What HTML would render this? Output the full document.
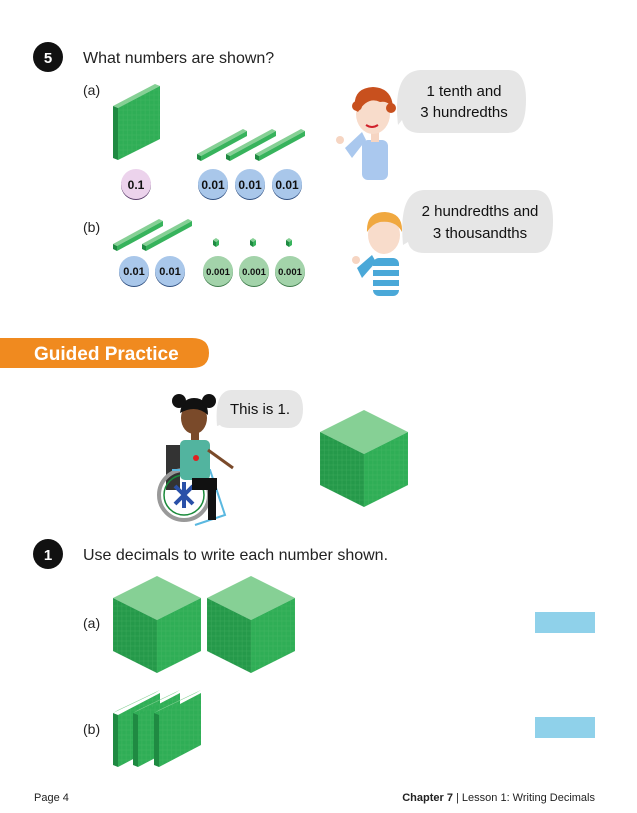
<!DOCTYPE html>
<html><head><meta charset="utf-8"><style>
html,body{margin:0;padding:0;background:#fff;}
svg{display:block;font-family:"Liberation Sans",sans-serif;}
</style></head><body>
<svg width="637" height="813" viewBox="0 0 637 813" xmlns="http://www.w3.org/2000/svg">
<defs>
<pattern id="grid" width="4.4" height="5" patternUnits="userSpaceOnUse">
<rect width="4.4" height="5" fill="none" stroke="#5cbf72" stroke-width="0.4"/>
</pattern>
<g id="cube">
<polygon points="0,22 44,0 88,22 44,44" fill="#86d095"/>
<polygon points="0,22 44,44 44,97 0,75" fill="#25994a"/>
<polygon points="44,44 88,22 88,75 44,97" fill="#2fae56"/>
<polygon points="0,22 44,44 44,97 0,75" fill="url(#grid)" opacity="0.5"/>
<polygon points="44,44 88,22 88,75 44,97" fill="url(#grid)" opacity="0.5"/>
</g>
<g id="plate">
<polygon points="0,23 5,20 47,0 42,3" fill="#86d095"/>
<polygon points="0,23 5,25 5,77 0,75" fill="#1f8a42"/>
<polygon points="5,25 47,3 47,55 5,77" fill="#2fae56"/>
<polygon points="5,25 47,3 47,55 5,77" fill="url(#grid)" opacity="0.5"/>
</g>
<g id="rod">
<polygon points="0,-3 46,-28 50,-26 4,-1" fill="#86d095"/>
<polygon points="0,-3 4,-1 4,4 0,2" fill="#1f8a42"/>
<polygon points="4,-1 50,-26 50,-21 4,4" fill="#37b35c"/>
</g>
<g id="unit">
<polygon points="0,2 3,0 6,2 3,4" fill="#86d095"/>
<polygon points="0,2 3,4 3,9 0,7" fill="#1f8a42"/>
<polygon points="3,4 6,2 6,7 3,9" fill="#37b35c"/>
</g>
</defs>

<!-- Q5 -->
<circle cx="48" cy="57" r="15" fill="#111"/>
<text x="48" y="63" font-size="15" font-weight="bold" fill="#fff" text-anchor="middle">5</text>
<text x="83" y="63" font-size="16" fill="#222">What numbers are shown?</text>
<text x="83" y="95" font-size="14" fill="#222">(a)</text>
<text x="83" y="232" font-size="14" fill="#222">(b)</text>

<!-- flat -->
<polygon points="113,106 155,84 160,86 118,108" fill="#86d095"/>
<polygon points="113,106 118,108 118,160 113,158" fill="#1f8a42"/>
<polygon points="118,108 160,86 160,139 118,160" fill="#2fae56"/>
<polygon points="118,108 160,86 160,139 118,160" fill="url(#grid)" opacity="0.5"/>

<use href="#rod" x="197" y="157"/>
<use href="#rod" x="226" y="157"/>
<use href="#rod" x="255" y="157"/>

<g font-size="12" font-weight="bold" text-anchor="middle" fill="#111">
<circle cx="136" cy="185" r="15" fill="#5a3d6a"/><circle cx="136" cy="184" r="15" fill="#ecd3ec"/><text x="136" y="189">0.1</text>
<circle cx="213" cy="185" r="15" fill="#2f4f80"/><circle cx="213" cy="184" r="15" fill="#a9c7ea"/><text x="213" y="189">0.01</text>
<circle cx="250" cy="185" r="15" fill="#2f4f80"/><circle cx="250" cy="184" r="15" fill="#a9c7ea"/><text x="250" y="189">0.01</text>
<circle cx="287" cy="185" r="15" fill="#2f4f80"/><circle cx="287" cy="184" r="15" fill="#a9c7ea"/><text x="287" y="189">0.01</text>
</g>

<use href="#rod" x="113" y="247"/>
<use href="#rod" x="142" y="247"/>
<use href="#unit" x="213" y="238"/>
<use href="#unit" x="250" y="238"/>
<use href="#unit" x="286" y="238"/>

<g font-size="11" font-weight="bold" text-anchor="middle" fill="#111">
<circle cx="134" cy="272" r="15" fill="#2f4f80"/><circle cx="134" cy="271" r="15" fill="#a9c7ea"/><text x="134" y="275">0.01</text>
<circle cx="170" cy="272" r="15" fill="#2f4f80"/><circle cx="170" cy="271" r="15" fill="#a9c7ea"/><text x="170" y="275">0.01</text>
</g>
<g font-size="9.5" font-weight="bold" text-anchor="middle" fill="#111">
<circle cx="218" cy="272" r="15" fill="#3d7a4a"/><circle cx="218" cy="271" r="15" fill="#a3d3aa"/><text x="218" y="275">0.001</text>
<circle cx="254" cy="272" r="15" fill="#3d7a4a"/><circle cx="254" cy="271" r="15" fill="#a3d3aa"/><text x="254" y="275">0.001</text>
<circle cx="290" cy="272" r="15" fill="#3d7a4a"/><circle cx="290" cy="271" r="15" fill="#a3d3aa"/><text x="290" y="275">0.001</text>
</g>

<!-- boy 1 -->
<polygon points="345,148 362,132 366,140 352,158" fill="#aac8ee"/>
<rect x="362" y="140" width="26" height="40" rx="6" fill="#aac8ee"/>
<rect x="371" y="130" width="8" height="12" fill="#f6d5c2"/>
<circle cx="340" cy="140" r="4" fill="#f6d5c2"/>
<ellipse cx="373" cy="114" rx="17" ry="20" fill="#f8dccb"/>
<path d="M355,110 Q352,88 373,87 Q394,88 393,112 Q390,100 380,102 Q368,96 358,112 Z" fill="#c8501e"/>
<circle cx="357" cy="106" r="5" fill="#c8501e"/><circle cx="391" cy="108" r="5" fill="#c8501e"/>
<path d="M366,125 Q372,129 378,125" stroke="#d0202a" stroke-width="2" fill="none"/>
<path d="M398,125 Q392,72 420,70 L508,70 Q526,70 526,100 Q526,133 508,133 L420,133 Q405,133 402,120 Z" fill="#e6e6e6"/>
<text x="464" y="96" font-size="15" fill="#111" text-anchor="middle">1 tenth and</text>
<text x="464" y="117" font-size="15" fill="#111" text-anchor="middle">3 hundredths</text>

<!-- boy 2 -->
<polygon points="357,268 372,255 376,262 362,278" fill="#4aa8d8"/>
<rect x="373" y="258" width="26" height="38" rx="6" fill="#4aa8d8"/>
<rect x="373" y="266" width="26" height="4" fill="#fff"/><rect x="373" y="276" width="26" height="4" fill="#fff"/><rect x="373" y="286" width="26" height="4" fill="#fff"/>
<circle cx="356" cy="260" r="4" fill="#f6d5c2"/>
<ellipse cx="384" cy="235" rx="16" ry="19" fill="#f8dccb"/>
<path d="M367,232 Q366,212 385,212 Q403,213 402,232 Q396,220 380,222 Q372,224 367,232Z" fill="#f0a840"/>
<path d="M403,245 Q398,190 425,190 L535,190 Q553,190 553,221 Q553,253 535,253 L425,253 Q410,253 408,242 Z" fill="#e6e6e6"/>
<text x="480" y="216" font-size="15" fill="#111" text-anchor="middle">2 hundredths and</text>
<text x="480" y="238" font-size="15" fill="#111" text-anchor="middle">3 thousandths</text>

<!-- Guided practice banner -->
<path d="M0,338 L192,338 Q209,338 209,353 Q209,368 192,368 L0,368 Z" fill="#f08a1f"/>
<text x="34" y="360" font-size="19" font-weight="bold" fill="#fff">Guided Practice</text>

<!-- girl -->
<rect x="166" y="445" width="14" height="45" fill="#333"/>
<circle cx="184" cy="495" r="25" fill="none" stroke="#999" stroke-width="4"/>
<circle cx="184" cy="495" r="20" fill="none" stroke="#1a8a3a" stroke-width="1.5"/>
<path d="M175,486 L193,504 M193,486 L175,504 M184,482 L184,508" stroke="#2a50a8" stroke-width="4"/>
<path d="M172,470 L210,470 L225,515 L195,525" stroke="#5ab8e0" stroke-width="2" fill="none"/>
<rect x="180" y="440" width="30" height="40" rx="5" fill="#62b87a"/>
<rect x="180" y="440" width="30" height="40" rx="5" fill="#3cb0d8" opacity="0.4"/>
<circle cx="196" cy="458" r="3" fill="#e02020"/>
<rect x="192" y="478" width="25" height="12" fill="#111"/>
<rect x="208" y="480" width="8" height="40" fill="#111"/>
<line x1="208" y1="450" x2="233" y2="468" stroke="#7a4a2a" stroke-width="3"/>
<rect x="191" y="430" width="8" height="10" fill="#7a4a2a"/>
<ellipse cx="194" cy="418" rx="13" ry="16" fill="#7a4a2a"/>
<path d="M180,413 Q182,398 194,398 Q208,398 208,415 Q196,404 180,413Z" fill="#111"/>
<circle cx="179" cy="401" r="7" fill="#111"/><circle cx="209" cy="401" r="7" fill="#111"/>
<path d="M217,426 Q214,390 232,390 L288,390 Q303,390 303,409 Q303,428 288,428 L232,428 Q222,428 220,425Z" fill="#e6e6e6"/>
<text x="260" y="414" font-size="15" fill="#111" text-anchor="middle">This is 1.</text>

<use href="#cube" x="320" y="410"/>

<!-- Q1 -->
<circle cx="48" cy="554" r="15" fill="#111"/>
<text x="48" y="560" font-size="15" font-weight="bold" fill="#fff" text-anchor="middle">1</text>
<text x="83" y="560" font-size="16" fill="#222">Use decimals to write each number shown.</text>
<text x="83" y="628" font-size="14" fill="#222">(a)</text>
<text x="83" y="734" font-size="14" fill="#222">(b)</text>
<use href="#cube" x="113" y="576"/>
<use href="#cube" x="207" y="576"/>
<use href="#plate" x="113" y="690"/>
<use href="#plate" x="133" y="690"/>
<use href="#plate" x="154" y="690"/>
<rect x="535" y="612" width="60" height="21" fill="#8fd1ea"/>
<rect x="535" y="717" width="60" height="21" fill="#8fd1ea"/>

<text x="34" y="801" font-size="11" fill="#222">Page 4</text>
<text x="595" y="801" font-size="11" fill="#222" text-anchor="end"><tspan font-weight="bold">Chapter 7</tspan> | Lesson 1: Writing Decimals</text>
</svg>
</body></html>
